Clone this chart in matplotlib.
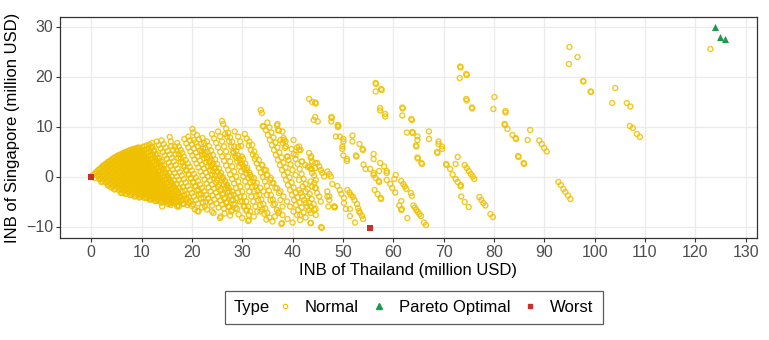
import numpy as np
import matplotlib
matplotlib.use('Agg')
import matplotlib.pyplot as plt
from matplotlib.lines import Line2D
from matplotlib.offsetbox import HPacker

plt.rcParams['font.family'] = ['Liberation Sans', 'DejaVu Sans']

# dense fan near the origin (read as diagonal chains of points)
normal_fan = [
    (0.3, 0.3), (0.7, -0.3),
    (0.8, 0.7), (1.2, 0.1), (1.6, -0.5), (2.0, -1.1),
    (1.05, 0.85), (1.45, 0.25), (1.85, -0.35), (2.25, -0.95),
    (1.3, 1.2), (1.7, 0.6), (2.1, 0.0), (2.5, -0.6), (2.9, -1.2), (3.3, -1.8),
    (1.55, 1.35), (1.95, 0.75), (2.35, 0.15), (2.75, -0.45), (3.15, -1.05), (3.55, -1.65), (3.95, -2.2),
    (1.8, 1.6), (2.2, 1.0), (2.6, 0.4), (3.0, -0.2), (3.4, -0.8), (3.8, -1.4), (4.2, -2.0), (4.6, -2.6),
    (2.05, 1.8), (2.45, 1.2), (2.85, 0.6), (3.25, 0.0), (3.65, -0.6), (4.05, -1.2), (4.45, -1.8), (4.85, -2.4),
    (2.3, 2.1), (2.7, 1.5), (3.1, 0.9), (3.5, 0.3), (3.9, -0.3), (4.3, -0.9), (4.7, -1.5), (5.1, -2.1),
    (5.5, -2.7), (5.9, -3.3),
    (2.55, 2.2), (2.95, 1.6), (3.35, 1.0), (3.75, 0.4), (4.15, -0.2), (4.55, -0.8), (4.95, -1.4),
    (5.35, -2.0), (5.75, -2.6), (6.15, -3.2),
    (2.8, 2.5), (3.2, 1.9), (3.6, 1.3), (4.0, 0.7), (4.4, 0.1), (4.8, -0.5), (5.2, -1.1), (5.6, -1.7),
    (6.0, -2.3), (6.4, -2.9), (6.8, -3.5),
    (3.05, 2.6), (3.45, 2.0), (3.85, 1.4), (4.25, 0.8), (4.65, 0.2), (5.05, -0.4), (5.45, -1.0),
    (5.85, -1.6), (6.25, -2.2), (6.65, -2.8), (7.05, -3.4),
    (3.3, 2.9), (3.7, 2.3), (4.1, 1.7), (4.5, 1.1), (4.9, 0.5), (5.3, -0.1), (5.7, -0.7), (6.1, -1.3),
    (6.5, -1.9), (6.9, -2.5), (7.3, -3.1), (7.7, -3.7),
    (3.55, 2.95), (3.95, 2.35), (4.35, 1.75), (4.75, 1.15), (5.15, 0.55), (5.55, -0.05), (5.95, -0.65),
    (6.35, -1.25), (6.75, -1.85), (7.15, -2.45), (7.55, -3.05), (7.95, -3.65),
    (3.8, 3.2), (4.2, 2.6), (4.6, 2.0), (5.0, 1.4), (5.4, 0.8), (5.8, 0.2), (6.2, -0.4), (6.6, -1.0),
    (7.0, -1.6), (7.4, -2.2), (7.8, -2.8), (8.2, -3.4), (8.6, -4.0),
    (4.05, 3.3), (4.45, 2.7), (4.85, 2.1), (5.25, 1.5), (5.65, 0.9), (6.05, 0.3), (6.45, -0.3),
    (6.85, -0.9), (7.25, -1.5), (7.65, -2.1), (8.05, -2.7), (8.45, -3.3), (8.85, -3.9),
    (4.3, 3.6), (4.7, 3.0), (5.1, 2.4), (5.5, 1.8), (5.9, 1.2), (6.3, 0.6), (6.7, 0.0), (7.1, -0.6),
    (7.5, -1.2), (7.9, -1.8), (8.3, -2.4), (8.7, -3.0), (9.1, -3.6), (9.5, -4.2),
    (4.55, 3.65), (4.95, 3.05), (5.35, 2.45), (5.75, 1.85), (6.15, 1.25), (6.55, 0.65), (6.95, 0.05),
    (7.35, -0.55), (7.75, -1.15), (8.15, -1.75), (8.55, -2.35), (8.95, -2.95), (9.35, -3.55), (9.75, -4.1),
    (4.8, 3.9), (5.2, 3.3), (5.6, 2.7), (6.0, 2.1), (6.4, 1.5), (6.8, 0.9), (7.2, 0.3), (7.6, -0.3),
    (8.0, -0.9), (8.4, -1.5), (8.8, -2.1), (9.2, -2.7), (9.6, -3.3), (10.0, -3.9),
    (5.05, 3.95), (5.45, 3.35), (5.85, 2.75), (6.25, 2.15), (6.65, 1.55), (7.05, 0.95), (7.45, 0.35),
    (7.85, -0.25), (8.25, -0.85), (8.65, -1.45), (9.05, -2.05), (9.45, -2.65), (9.85, -3.25),
    (10.25, -3.85), (10.65, -4.3),
    (5.3, 4.2), (5.7, 3.6), (6.1, 3.0), (6.5, 2.4), (6.9, 1.8), (7.3, 1.2), (7.7, 0.6), (8.1, 0.0),
    (8.5, -0.6), (8.9, -1.2), (9.3, -1.8), (9.7, -2.4), (10.1, -3.0), (10.5, -3.6), (10.9, -4.2),
    (5.55, 4.2), (5.95, 3.6), (6.35, 3.0), (6.75, 2.4), (7.15, 1.8), (7.55, 1.2), (7.95, 0.6), (8.35, 0.0),
    (8.75, -0.6), (9.15, -1.2), (9.55, -1.8), (9.95, -2.4), (10.35, -3.0), (10.75, -3.6), (11.15, -4.2),
    (11.55, -4.6),
    (5.8, 4.4), (6.2, 3.8), (6.6, 3.2), (7.0, 2.6), (7.4, 2.0), (7.8, 1.4), (8.2, 0.8), (8.6, 0.2),
    (9.0, -0.4), (9.4, -1.0), (9.8, -1.6), (10.2, -2.2), (10.6, -2.8), (11.0, -3.4), (11.4, -4.0), (11.8, -4.6),
    (6.05, 4.45), (6.45, 3.85), (6.85, 3.25), (7.25, 2.65), (7.65, 2.05), (8.05, 1.45), (8.45, 0.85),
    (8.85, 0.25), (9.25, -0.35), (9.65, -0.95), (10.05, -1.55), (10.45, -2.15), (10.85, -2.75),
    (11.25, -3.35), (11.65, -3.95), (12.05, -4.55),
    (6.3, 4.7), (6.7, 4.1), (7.1, 3.5), (7.5, 2.9), (7.9, 2.3), (8.3, 1.7), (8.7, 1.1), (9.1, 0.5),
    (9.5, -0.1), (9.9, -0.7), (10.3, -1.3), (10.7, -1.9), (11.1, -2.5), (11.5, -3.1), (11.9, -3.7),
    (12.3, -4.3), (12.7, -4.9),
    (6.55, 4.7), (6.95, 4.1), (7.35, 3.5), (7.75, 2.9), (8.15, 2.3), (8.55, 1.7), (8.95, 1.1), (9.35, 0.5),
    (9.75, -0.1), (10.15, -0.7), (10.55, -1.3), (10.95, -1.9), (11.35, -2.5), (11.75, -3.1),
    (12.15, -3.7), (12.55, -4.3), (12.95, -4.9),
    (6.8, 4.9), (7.2, 4.3), (7.6, 3.7), (8.0, 3.1), (8.4, 2.5), (8.8, 1.9), (9.2, 1.3), (9.6, 0.7),
    (10.0, 0.1), (10.4, -0.5), (10.8, -1.1), (11.2, -1.7), (11.6, -2.3), (12.0, -2.9), (12.4, -3.5),
    (12.8, -4.1), (13.2, -4.7),
    (7.05, 4.9), (7.45, 4.3), (7.85, 3.7), (8.25, 3.1), (8.65, 2.5), (9.05, 1.9), (9.45, 1.3), (9.85, 0.7),
    (10.25, 0.1), (10.65, -0.5), (11.05, -1.1), (11.45, -1.7), (11.85, -2.3), (12.25, -2.9),
    (12.65, -3.5), (13.05, -4.1), (13.45, -4.7), (13.85, -5.2),
    (7.3, 5.1), (7.7, 4.5), (8.1, 3.9), (8.5, 3.3), (8.9, 2.7), (9.3, 2.1), (9.7, 1.5), (10.1, 0.9),
    (10.5, 0.3), (10.9, -0.3), (11.3, -0.9), (11.7, -1.5), (12.1, -2.1), (12.5, -2.7), (12.9, -3.3),
    (13.3, -3.9), (13.7, -4.5), (14.1, -5.1),
    (7.55, 5.1), (7.95, 4.5), (8.35, 3.9), (8.75, 3.3), (9.15, 2.7), (9.55, 2.1), (9.95, 1.5), (10.35, 0.9),
    (10.75, 0.3), (11.15, -0.3), (11.55, -0.9), (11.95, -1.5), (12.35, -2.1), (12.75, -2.7),
    (13.15, -3.3), (13.55, -3.9), (13.95, -4.5), (14.35, -5.1),
    (7.8, 5.3), (8.2, 4.7), (8.6, 4.1), (9.0, 3.5), (9.4, 2.9), (9.8, 2.3), (10.2, 1.7), (10.6, 1.1),
    (11.0, 0.5), (11.4, -0.1), (11.8, -0.7), (12.2, -1.3), (12.6, -1.9), (13.0, -2.5), (13.4, -3.1),
    (13.8, -3.7), (14.2, -4.3), (14.6, -4.9),
    (8.05, 5.3), (8.45, 4.7), (8.85, 4.1), (9.25, 3.5), (9.65, 2.9), (10.05, 2.3), (10.45, 1.7),
    (10.85, 1.1), (11.25, 0.5), (11.65, -0.1), (12.05, -0.7), (12.45, -1.3), (12.85, -1.9),
    (13.25, -2.5), (13.65, -3.1), (14.05, -3.7), (14.45, -4.3), (14.85, -4.9), (15.25, -5.5),
    (8.3, 5.5), (8.7, 4.9), (9.1, 4.3), (9.5, 3.7), (9.9, 3.1), (10.3, 2.5), (10.7, 1.9), (11.1, 1.3),
    (11.5, 0.7), (11.9, 0.1), (12.3, -0.5), (12.7, -1.1), (13.1, -1.7), (13.5, -2.3), (13.9, -2.9),
    (14.3, -3.5), (14.7, -4.1), (15.1, -4.7), (15.5, -5.3),
    (8.55, 5.45), (8.95, 4.85), (9.35, 4.25), (9.75, 3.65), (10.15, 3.05), (10.55, 2.45), (10.95, 1.85),
    (11.35, 1.25), (11.75, 0.65), (12.15, 0.05), (12.55, -0.55), (12.95, -1.15), (13.35, -1.75),
    (13.75, -2.35), (14.15, -2.95), (14.55, -3.55), (14.95, -4.15), (15.35, -4.75), (15.75, -5.35),
    (8.8, 5.6), (9.2, 5.0), (9.6, 4.4), (10.0, 3.8), (10.4, 3.2), (10.8, 2.6), (11.2, 2.0), (11.6, 1.4),
    (12.0, 0.8), (12.4, 0.2), (12.8, -0.4), (13.2, -1.0), (13.6, -1.6), (14.0, -2.2), (14.4, -2.8),
    (14.8, -3.4), (15.2, -4.0), (15.6, -4.6), (16.0, -5.2),
    (9.05, 5.6), (9.45, 5.0), (9.85, 4.4), (10.25, 3.8), (10.65, 3.2), (11.05, 2.6), (11.45, 2.0),
    (11.85, 1.4), (12.25, 0.8), (12.65, 0.2), (13.05, -0.4), (13.45, -1.0), (13.85, -1.6), (14.25, -2.2),
    (14.65, -2.8), (15.05, -3.4), (15.45, -4.0), (15.85, -4.6), (16.25, -5.2),
    (9.3, 5.8), (9.7, 5.2), (10.1, 4.6), (10.5, 4.0), (10.9, 3.4), (11.3, 2.8), (11.7, 2.2), (12.1, 1.6),
    (12.5, 1.0), (12.9, 0.4), (13.3, -0.2), (13.7, -0.8), (14.1, -1.4), (14.5, -2.0), (14.9, -2.6),
    (15.3, -3.2), (15.7, -3.8), (16.1, -4.4), (16.5, -5.0),
    (9.6, 5.7), (10.0, 5.1), (10.4, 4.5), (10.8, 3.9), (11.2, 3.3), (11.6, 2.7), (12.0, 2.1), (12.4, 1.5),
    (12.8, 0.9), (13.2, 0.3), (13.6, -0.3), (14.0, -0.9), (14.4, -1.5), (14.8, -2.1), (15.2, -2.7),
    (15.6, -3.3), (16.0, -3.9), (16.4, -4.5), (16.8, -5.1), (17.2, -5.7),
]

# bands between x = 10 and x = 45
normal_mid = [
    (10.2, 5.9), (10.6, 5.3), (11.0, 4.7), (11.4, 4.1), (11.8, 3.5), (12.2, 2.9), (12.6, 2.3), (13.0, 1.7),
    (13.4, 1.1), (13.8, 0.5), (14.2, -0.1), (14.6, -0.7), (15.0, -1.3), (15.4, -1.9), (15.8, -2.5),
    (16.2, -3.1), (16.6, -3.7), (17.0, -4.3), (17.4, -4.9),
    (10.6, 6.0), (11.0, 5.4), (11.4, 4.8), (11.8, 4.2), (12.2, 3.6), (12.6, 3.0), (13.0, 2.4), (13.4, 1.8),
    (13.8, 1.2), (14.2, 0.6), (14.6, 0.0), (15.0, -0.6), (15.4, -1.2), (15.8, -1.8), (16.2, -2.4),
    (16.6, -3.0), (17.0, -3.6), (17.4, -4.2), (17.8, -4.8), (18.2, -5.4),
    (11.0, 6.2), (11.4, 5.6), (11.8, 5.0), (12.2, 4.4), (12.6, 3.8), (13.0, 3.2), (13.4, 2.6), (13.8, 2.0),
    (14.2, 1.4), (14.6, 0.8), (15.0, 0.2), (15.4, -0.4), (15.8, -1.0), (16.2, -1.6), (16.6, -2.2),
    (17.0, -2.8), (17.4, -3.4), (17.8, -4.0), (18.2, -4.6),
    (11.6, 6.4), (12.0, 5.7), (12.4, 5.0), (12.8, 4.3), (13.2, 3.6), (13.6, 2.9), (14.0, 2.2), (14.4, 1.5),
    (14.8, 0.8), (15.2, 0.1), (15.6, -0.6), (16.0, -1.3), (16.4, -2.0), (16.8, -2.7), (17.2, -3.4),
    (17.6, -4.1), (18.0, -4.8), (18.4, -5.5),
    (12.1, 6.7), (12.1, 6.0), (12.5, 5.3), (13.0, 4.5), (13.5, 3.7), (14.0, 3.0), (14.5, 2.2), (15.0, 1.5),
    (15.5, 0.7), (16.0, 0.0), (16.5, -0.8), (17.0, -1.5), (17.5, -2.3), (18.0, -3.0), (18.5, -3.8),
    (19.0, -4.5), (19.5, -5.3),
    (13.0, 7.0), (13.4, 6.3), (13.8, 5.6), (14.2, 4.9), (14.6, 4.2), (15.0, 3.5), (15.4, 2.8), (15.8, 2.1),
    (16.2, 1.4), (16.6, 0.7), (17.0, 0.0), (17.4, -0.7), (17.8, -1.4), (18.2, -2.1), (18.6, -2.8),
    (19.0, -3.5), (19.4, -4.2), (19.8, -4.9), (20.2, -5.6),
    (14.0, 7.2), (14.4, 6.5), (14.8, 5.8), (15.2, 5.1), (15.6, 4.4), (16.0, 3.7), (16.4, 3.0), (16.8, 2.3),
    (17.2, 1.6), (17.6, 0.9), (18.0, 0.2), (18.4, -0.5), (18.8, -1.2), (19.2, -1.9), (19.6, -2.6),
    (20.0, -3.3), (20.4, -4.0), (20.8, -4.7), (21.2, -5.4),
    (15.6, 7.9), (15.8, 7.0), (15.9, 6.1), (16.3, 5.3), (16.8, 4.5), (17.3, 3.7), (17.8, 2.9), (18.3, 2.1),
    (18.8, 1.3), (19.3, 0.5), (19.8, -0.3), (20.3, -1.1), (20.8, -1.9), (21.3, -2.7), (21.8, -3.5),
    (22.3, -4.3), (22.8, -5.1),
    (16.6, 6.0), (17.0, 5.2), (17.4, 4.4), (17.8, 3.6), (18.2, 2.8), (18.6, 2.0), (19.0, 1.2), (19.4, 0.4),
    (19.8, -0.4), (20.2, -1.2), (20.6, -2.0), (21.0, -2.8), (21.4, -3.6), (21.8, -4.4), (22.2, -5.2),
    (22.6, -6.0),
    (17.1, 6.7), (17.4, 6.0), (17.8, 5.3), (18.1, 4.7), (18.4, 4.0), (18.8, 3.3), (19.2, 2.6), (19.6, 1.9),
    (20.0, 1.2), (20.4, 0.5), (20.8, -0.2), (21.2, -0.9), (21.6, -1.6), (22.0, -2.3), (22.4, -3.0),
    (22.8, -3.7), (23.2, -4.4), (23.6, -5.1), (24.0, -5.8),
    (18.5, 7.5), (18.9, 6.6), (19.3, 5.8), (19.7, 5.0), (20.1, 4.2), (20.5, 3.4), (20.9, 2.6), (21.3, 1.8),
    (21.7, 1.0), (22.1, 0.2), (22.5, -0.6), (22.9, -1.4), (23.3, -2.2), (23.7, -3.0), (24.1, -3.8),
    (24.5, -4.6), (24.9, -5.4), (25.3, -6.2),
    (19.3, 8.0), (19.6, 7.2), (20.0, 6.4), (20.4, 5.6), (20.8, 4.8), (21.2, 4.0), (21.6, 3.2), (22.0, 2.4),
    (22.4, 1.6), (22.8, 0.8), (23.2, 0.0), (23.6, -0.8), (24.0, -1.6), (24.4, -2.4), (24.8, -3.2),
    (25.2, -4.0), (25.6, -4.8), (26.0, -5.6), (26.4, -6.4),
    (20.1, 9.5), (20.3, 8.8), (20.4, 7.3), (20.8, 6.8), (21.2, 6.0), (21.6, 5.2), (22.0, 4.4), (22.4, 3.6),
    (22.8, 2.8), (23.2, 2.0), (23.6, 1.2), (24.0, 0.4), (24.4, -0.4), (24.8, -1.2), (25.2, -2.0),
    (25.6, -2.8), (26.0, -3.6), (26.4, -4.4), (26.8, -5.2), (27.2, -6.0),
    (21.0, 8.3), (21.4, 7.4), (21.8, 6.5), (22.2, 5.6), (22.6, 4.7), (23.0, 3.8), (23.4, 2.9), (23.8, 2.0),
    (24.2, 1.1), (24.6, 0.2), (25.0, -0.7), (25.4, -1.6), (25.8, -2.5), (26.2, -3.4), (26.6, -4.3),
    (27.0, -5.2), (27.4, -6.1), (27.8, -7.0),
    (22.1, 7.7), (22.4, 6.7), (22.7, 5.7), (23.1, 4.9), (23.5, 4.1), (23.9, 3.3), (24.3, 2.5), (24.7, 1.7),
    (25.1, 0.9), (25.5, 0.1), (25.9, -0.7), (26.3, -1.5), (26.7, -2.3), (27.1, -3.1), (27.5, -3.9),
    (27.9, -4.7), (28.3, -5.5), (28.7, -6.3),
    (22.0, 5.0), (22.5, 4.3), (23.0, 3.7), (23.6, 3.0), (24.0, 2.3), (24.5, 1.7), (25.0, 1.0), (25.6, 0.3),
    (26.0, -0.3), (26.6, -0.9), (27.0, -1.7), (27.3, -2.3), (28.0, -3.0), (28.3, -3.7), (28.9, -4.3),
    (29.6, -5.0), (30.3, -6.0), (30.9, -6.7), (31.3, -7.7),
    (23.0, 7.0), (23.4, 6.1), (23.8, 5.2), (24.2, 4.3), (24.6, 3.4), (25.0, 2.5), (25.4, 1.6), (25.8, 0.7),
    (26.2, -0.2), (26.6, -1.1), (27.0, -2.0), (27.4, -2.9), (27.8, -3.8), (28.2, -4.7), (28.6, -5.6),
    (29.0, -6.5),
    (24.0, 8.5), (24.4, 7.6), (24.8, 6.7), (25.2, 5.8), (25.6, 4.9), (26.0, 4.0), (26.4, 3.1), (26.8, 2.2),
    (27.2, 1.3), (27.6, 0.4), (28.0, -0.5), (28.4, -1.4), (28.8, -2.3), (29.2, -3.2), (29.6, -4.1),
    (30.0, -5.0), (30.4, -5.9), (30.8, -6.8),
    (25.2, 9.0), (25.6, 8.0), (26.0, 7.0), (26.4, 6.0), (26.8, 5.0), (27.2, 4.0), (27.6, 3.0), (28.0, 2.0),
    (28.4, 1.0), (28.8, 0.0), (29.2, -1.0), (29.6, -2.0), (30.0, -3.0), (30.4, -4.0), (30.8, -5.0),
    (31.2, -6.0), (31.6, -7.0),
    (26.0, 11.1), (26.2, 10.5), (26.6, 8.5), (27.0, 8.0), (27.4, 7.0), (27.8, 6.0), (28.2, 5.0), (28.6, 4.0),
    (29.0, 3.0), (29.4, 2.0), (29.8, 1.0), (30.2, 0.0), (30.6, -1.0), (31.0, -2.0), (31.4, -3.0),
    (31.8, -4.0), (32.2, -5.0), (32.6, -6.0), (33.0, -7.0),
    (26.8, 9.6), (27.2, 8.7), (27.6, 7.8), (28.0, 6.9), (28.4, 6.0), (28.8, 5.1), (29.2, 4.2), (29.6, 3.3),
    (30.0, 2.4), (30.4, 1.5), (30.8, 0.6), (31.2, -0.3), (31.6, -1.2), (32.0, -2.1), (32.4, -3.0),
    (32.8, -3.9), (33.2, -4.8), (33.6, -5.7), (34.0, -6.6), (34.4, -7.5),
    (28.5, 9.0), (29.2, 8.0), (29.6, 7.0), (29.8, 6.1), (29.2, 5.9), (29.9, 4.0), (30.2, 3.5), (30.6, 2.6),
    (31.0, 1.7), (31.4, 0.8), (31.8, -0.1), (32.2, -1.0), (32.6, -1.9), (33.0, -2.8), (33.4, -3.7),
    (33.8, -4.6), (34.2, -5.5), (34.6, -6.4), (35.0, -7.3), (35.4, -8.2),
    (28.3, 4.7), (28.9, 3.7), (29.6, 2.7), (30.3, 2.0), (30.9, 1.3), (31.6, 0.3), (32.3, -0.3), (32.9, -1.3),
    (33.6, -2.3), (34.2, -3.0), (34.9, -3.7), (35.6, -4.7), (36.2, -5.7), (36.9, -6.7), (37.2, -7.3),
    (30.5, 8.5), (30.9, 7.6), (31.3, 6.2), (31.7, 5.3), (32.1, 4.4), (32.5, 3.5), (32.9, 2.6), (33.3, 1.7),
    (33.7, 0.8), (34.1, -0.1), (34.5, -1.0), (34.9, -1.9), (35.3, -2.8), (35.7, -3.7), (36.1, -4.6),
    (36.5, -5.5), (36.5, -8.0),
    (31.4, 7.0), (32.0, 6.3), (32.4, 5.0), (32.7, 4.0), (33.3, 3.3), (34.0, 2.3), (34.7, 1.3), (35.0, 0.3),
    (35.7, -0.3), (36.0, -1.3), (36.6, -2.3), (37.3, -3.3), (37.6, -4.7), (38.0, -6.0), (37.3, -7.0),
    (38.0, -7.7), (37.8, -9.5),
    (33.7, 13.3), (33.9, 12.7), (34.1, 10.1), (34.7, 9.3), (34.2, 10.0), (35.1, 8.3), (35.5, 7.3),
    (35.9, 6.3), (36.3, 5.3), (36.7, 4.3), (37.1, 3.3), (37.5, 2.3), (37.9, 1.3), (38.3, 0.3), (38.7, -0.7),
    (39.1, -1.7), (39.5, -2.7), (39.9, -3.7), (40.3, -4.7), (40.7, -5.7), (41.1, -6.7), (41.5, -7.7),
    (33.9, 2.3), (34.4, 1.3), (34.9, 0.3), (35.6, -0.7), (36.2, -1.3), (36.9, -2.3), (37.6, -3.0),
    (38.2, -4.0), (38.9, -5.0), (39.5, -6.0), (40.2, -7.0), (40.9, -7.7), (41.5, -8.7),
    (35.0, 10.8), (35.4, 9.8), (35.8, 8.8), (36.2, 7.8), (36.6, 6.8), (37.0, 5.8), (37.4, 4.8), (37.8, 3.8),
    (38.2, 2.8), (38.6, 1.8), (39.0, 0.8), (39.4, -0.2), (39.8, -1.2), (40.2, -2.2), (40.6, -3.2),
    (41.0, -4.2), (41.4, -5.2), (41.8, -6.2), (42.2, -7.2), (42.6, -8.2),
    (37.0, 10.5), (37.3, 9.2), (38.0, 9.0), (37.6, 7.3), (38.3, 7.3), (38.0, 6.7), (38.5, 5.7), (39.0, 4.0),
    (39.2, 3.3), (39.6, 2.4), (40.0, 1.3), (40.6, 0.3), (41.3, -0.7), (42.0, -2.0), (42.6, -3.0),
    (43.0, -4.0), (43.3, -5.3), (43.6, -6.0), (44.3, -6.7), (44.6, -7.7), (43.6, -9.3),
    (38.2, 7.7), (38.6, 7.0), (38.7, 6.0), (38.9, 4.0), (40.2, 7.3), (40.9, 5.8), (41.3, 5.3),
    (41.3, 6.0), (41.6, 5.3), (40.6, 4.3), (41.8, 3.0), (42.5, 2.3), (43.0, 1.9), (43.6, 1.5), (43.9, 0.7),
    (44.3, 0.2), (44.6, -0.7), (44.5, -2.3),
    (39.8, 5.5), (40.2, 4.5), (40.6, 3.5), (41.0, 2.5), (41.4, 1.5), (41.8, 0.5), (42.2, -0.5), (42.6, -1.5),
    (43.0, -2.5), (43.4, -3.5), (43.8, -4.5), (44.2, -5.5), (44.6, -6.5),
    (36.9, 10.2), (37.1, 9.3), (43.3, 15.5), (43.9, 14.9), (44.2, 11.3), (43.3, 4.7), (43.7, 4.0),
    (44.5, 2.7), (44.5, 1.7), (41.9, 3.0), (43.3, 2.0), (43.8, 1.5), (43.6, 3.7), (43.9, 3.0),
    (41.3, -2.7), (41.6, -3.3), (41.9, -4.0), (42.3, -4.7), (42.6, -5.3), (42.9, -6.0), (43.3, -6.7),
    (43.6, -7.3), (43.6, -1.0), (44.3, -1.3), (43.9, -2.0), (44.6, -2.3), (44.9, -3.3), (45.3, -4.0),
    (45.6, -5.0), (43.6, -9.3),
    (14.1, -6.0), (17.1, -6.0), (21.1, -6.9), (21.3, -7.0), (24.3, -7.3), (25.6, -8.3), (25.7, -8.0),
    (28.0, -6.7), (30.0, -8.3), (31.2, -8.9), (31.3, -8.7), (33.6, -7.0), (37.9, -9.3), (12.8, -4.0),
    (15.8, -5.7), (17.4, -6.0), (19.1, -5.7),
    (18.8, -4.5), (19.4, -5.2), (20.0, -5.9), (20.6, -6.6), (22.0, -6.2), (23.0, -6.6), (24.0, -7.0),
    (26.5, -7.4), (27.6, -7.8), (29.3, -7.6), (32.3, -8.0), (34.8, -8.6), (36.0, -9.0), (39.0, -8.5),
    (40.0, -9.2),
]

# sparse points beyond x = 44
normal_far = [
    (44.5, 14.8), (44.6, 14.6), (44.5, 11.9), (45.0, 11.0), (47.7, 11.9), (47.8, 11.7), (47.7, 11.0),
    (49.0, 10.3), (49.0, 9.9), (49.1, 10.1), (48.6, 8.0), (49.4, 8.0), (50.1, 7.5), (50.1, 7.0),
    (49.9, 6.0), (49.9, 5.5), (50.1, 4.2), (50.8, 3.5), (50.8, 3.1), (51.9, 8.2), (51.9, 7.0),
    (53.3, 6.5), (53.9, 5.5), (54.0, 5.3), (52.6, 4.2), (52.7, 4.0), (54.1, 2.4), (54.5, 1.5),
    (55.4, 1.5), (56.1, 0.7), (56.1, 0.3), (56.1, 4.5), (56.1, 3.5), (57.4, 2.7), (58.2, 2.0),
    (58.7, 1.1), (58.7, 0.7), (57.2, 1.1), (56.5, -0.3), (57.1, -0.9), (57.2, -1.1), (58.7, -0.7),
    (59.4, -1.5), (59.8, -2.3), (60.4, -3.2), (60.2, -0.5), (60.5, 0.3), (56.3, -2.7), (56.9, -3.5),
    (57.5, -4.3), (57.6, -4.5), (61.6, -0.9), (62.0, -1.5), (62.3, -2.0), (62.6, -2.5), (63.5, -3.3),
    (63.7, -3.9), (61.6, -4.9), (61.2, -5.8), (61.6, -6.7), (61.7, -6.5), (62.8, -8.3), (64.0, -5.8),
    (64.3, -6.2), (64.6, -6.7), (64.9, -7.1), (65.2, -7.5), (65.5, -7.9), (66.1, -9.2), (66.5, -9.7),
    (50.9, -2.7), (51.3, -3.2), (51.6, -3.7), (52.0, -4.1), (52.3, -4.7), (47.9, -1.5), (48.9, -1.9),
    (49.4, -2.7), (49.7, -3.5), (50.2, -4.3), (50.2, -5.3), (46.9, -4.0), (47.3, -4.7), (48.3, -6.0),
    (48.4, -6.2), (50.6, -6.5), (51.4, -6.5), (51.4, -7.9), (52.4, -9.2), (52.8, -5.5), (53.0, -6.3),
    (53.2, -6.9), (53.4, -7.3), (53.8, -7.9), (54.0, -8.5), (45.7, -10.1), (45.8, -10.3),
    (44.9, 2.7), (45.3, 2.0), (45.6, 1.3), (45.9, 0.7), (46.3, 0.0), (46.9, 1.0), (47.3, 0.5), (47.6, 0.0),
    (46.9, -3.0), (47.3, -4.0), (47.1, -6.0), (48.3, -6.0),
    (56.5, 18.7), (56.6, 18.5), (57.6, 17.5), (57.7, 17.3), (56.5, 17.0), (57.4, 13.7), (57.4, 13.2),
    (58.4, 12.5), (58.4, 12.0), (61.8, 13.8), (61.9, 13.6), (61.8, 12.2), (63.6, 11.5), (63.7, 11.3),
    (62.7, 8.8), (63.8, 8.9), (63.9, 8.7), (64.8, 8.0), (64.8, 7.3), (64.5, 6.2), (64.6, 6.0),
    (64.8, 3.8), (64.9, 3.6), (65.6, 2.7), (65.7, 2.5),
    (67.1, 9.0), (67.1, 7.5), (69.0, 7.0), (69.0, 6.5), (69.7, 6.0), (69.7, 5.5), (68.7, 4.9), (68.8, 4.7),
    (70.5, 2.5), (70.6, 2.3), (71.3, 1.5), (71.8, 0.4), (72.4, -0.5), (72.8, -1.1), (73.4, -1.7),
    (73.4, -2.0), (72.8, 3.9), (72.4, 2.5), (74.2, 2.3), (74.6, 1.7), (75.0, 1.1), (75.4, 0.5),
    (75.8, 0.0), (76.1, -0.5), (73.5, -4.0), (74.2, -5.1), (75.0, -6.1), (77.1, -4.1), (77.5, -4.7),
    (77.9, -5.3), (78.3, -5.8), (79.3, -7.5), (79.8, -8.1),
    (73.3, 22.0), (73.4, 21.8), (74.5, 20.5), (74.6, 20.3), (73.2, 19.7), (74.5, 15.5), (74.6, 15.2),
    (75.6, 13.8), (75.7, 13.6), (80.1, 15.9), (79.9, 13.5), (82.3, 13.1), (82.3, 12.8), (82.1, 10.5),
    (82.2, 10.3), (82.7, 9.5), (83.7, 8.3), (84.4, 7.5), (84.3, 7.7), (87.2, 9.3), (86.7, 7.3),
    (89.0, 7.2), (89.5, 6.5), (90.0, 5.7), (90.5, 5.0), (84.8, 4.1), (84.9, 3.9), (85.9, 2.7), (86.0, 2.5),
    (95.0, 25.9), (96.6, 23.9), (94.9, 22.5), (97.7, 19.1), (97.8, 19.0), (99.2, 17.0), (99.3, 16.9),
    (104.1, 17.7), (103.5, 14.7), (106.4, 14.7), (107.1, 14.0), (107.0, 10.1), (107.6, 9.7),
    (108.4, 8.5), (109.0, 7.9), (92.8, -1.1), (93.3, -1.7), (93.8, -2.5), (94.2, -3.1), (94.7, -3.8),
    (95.2, -4.5), (123.0, 25.5),
]

pareto = [(124.0, 29.9), (125.0, 27.9), (126.0, 27.5)]
worst = [(0.0, 0.0), (55.3, -10.3)]

type_labels = ['Normal', 'Pareto Optimal', 'Worst']
x_ticks = list(range(0, 131, 10))
y_ticks = [-10, 0, 10, 20, 30]

yellow = '#EFC000'
green = '#1E9A4E'
red = '#C9302C'

normal = np.array(normal_fan + normal_mid + normal_far)
pareto = np.array(pareto)
worst = np.array(worst)

fig = plt.figure(figsize=(7.69, 3.40), dpi=100)
ax = fig.add_axes([0.078, 0.300, 0.906, 0.650])

ax.scatter(normal[:, 0], normal[:, 1], s=13, facecolors='none', edgecolors=yellow,
           linewidths=1.0, alpha=0.85, zorder=3)
ax.scatter(pareto[:, 0], pareto[:, 1], s=26, marker='^', color=green, linewidths=0, zorder=4)
ax.scatter(worst[:, 0], worst[:, 1], s=18, marker='s', color=red, linewidths=0, zorder=4)

ax.set_xlim(-6.2, 132.2)
ax.set_ylim(-12.3, 31.9)
ax.set_xticks(x_ticks)
ax.set_yticks(y_ticks)
ax.grid(True, color='#EBEBEB', linewidth=0.9)
ax.set_axisbelow(True)
for sp in ax.spines.values():
    sp.set_color('#333333')
    sp.set_linewidth(0.9)
ax.tick_params(axis='both', colors='#333333', labelcolor='#4D4D4D', labelsize=11.5,
               length=3, width=0.8, pad=2)
ax.set_xlabel('INB of Thailand (million USD)', fontsize=12, labelpad=2)
ax.set_ylabel('INB of Singapore (million USD)', fontsize=12, labelpad=4)

handles = [
    Line2D([], [], linestyle='none', marker='o', markersize=3.2, markerfacecolor='none',
           markeredgecolor=yellow, markeredgewidth=0.8),
    Line2D([], [], linestyle='none', marker='^', markersize=4, color=green),
    Line2D([], [], linestyle='none', marker='s', markersize=3.2, color=red),
]
leg = fig.legend(handles, type_labels, title='Type', title_fontsize=12, loc='center',
                 bbox_to_anchor=(0.538, 0.096), ncol=3, frameon=True, fontsize=12,
                 handlelength=0.8, handletextpad=0.8, columnspacing=0.8, borderpad=0.55,
                 fancybox=False)
# put the legend title beside the keys, as ggplot does
leg._legend_box.__class__ = HPacker
leg._legend_box.align = 'center'
leg._legend_box.sep = 6
leg.get_frame().set_edgecolor('#333333')
leg.get_frame().set_linewidth(0.9)

fig.savefig('out.png', dpi=100)
